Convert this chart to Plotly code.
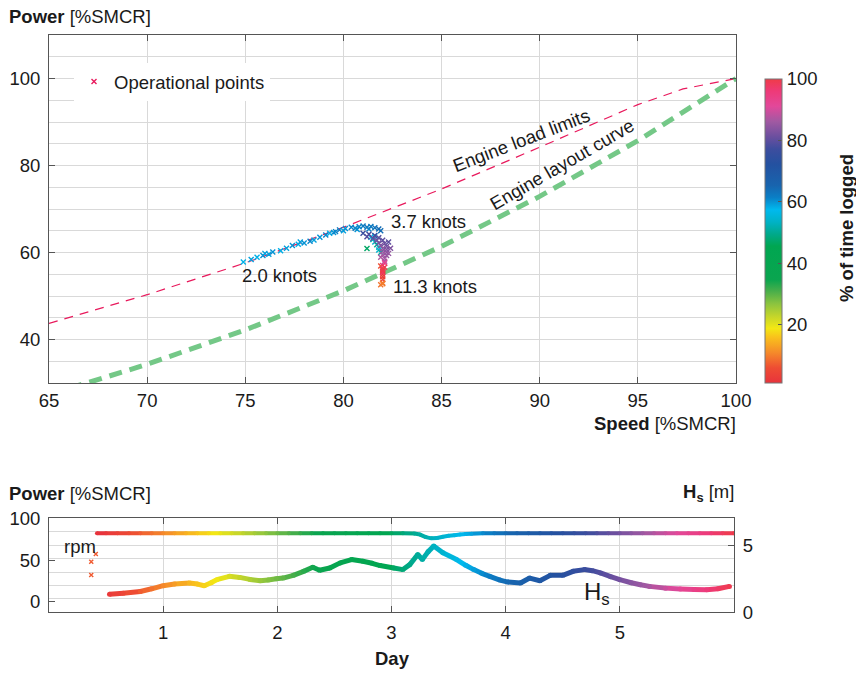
import plotly.graph_objects as go
from plotly.colors import sample_colorscale

# ---------------- data ----------------
load_speed = [65, 70, 75, 80, 85, 90, 95, 97.3, 100]
load_power = [43.7, 50.3, 57.6, 65.8, 74.6, 84.2, 94.0, 97.6, 100]

layout_speed = [65, 67, 70, 75, 80, 85, 90, 95, 100]
layout_power = [27.5, 30.1, 34.3, 42.2, 51.2, 61.4, 72.9, 85.7, 100]

op_speed = [82.0, 82.0, 82.0, 82.0, 82.0, 81.9, 82.0, 81.9, 82.0,
            81.2, 81.5, 81.6, 81.7, 81.8, 81.8, 81.9, 81.4, 81.6,
            74.9, 75.3, 75.6, 75.9, 76.0, 76.2, 76.4, 76.8, 77.1, 77.4, 77.7, 77.8, 78.0,
            78.3, 78.5, 78.8, 79.1, 79.3, 79.5, 79.6, 79.8, 80.0, 80.1, 80.4, 80.6, 80.7,
            80.8, 81.0, 81.2, 81.3, 81.4, 81.6, 81.8, 81.9,
            81.0, 81.3, 81.6, 81.8, 82.0, 82.1, 82.2, 82.2, 82.2, 82.2, 82.1, 82.1,
            81.2, 81.5, 81.7, 81.8, 81.9, 82.0, 82.0, 82.0, 81.9, 82.3, 82.4, 82.3,
            82.1, 82.0, 82.0, 82.1, 82.0]
op_power = [55.6, 56.2, 54.4, 55.0, 53.8, 56.9, 53.0, 52.6, 52.8,
            60.9, 63.0, 62.4, 61.8, 61.2, 60.6, 60.0, 63.5, 63.8,
            57.8, 58.4, 58.9, 59.3, 59.8, 59.6, 60.1, 60.4, 61.0, 61.6, 61.9, 62.4, 62.2,
            62.6, 62.9, 63.5, 64.0, 64.4, 64.6, 64.8, 65.2, 65.0, 65.5, 65.8, 65.6, 65.3,
            65.9, 66.1, 65.8, 65.4, 66.0, 65.7, 65.4, 65.0,
            64.4, 64.2, 63.9, 63.4, 62.8, 62.1, 61.4, 60.7, 60.0, 59.3, 58.6, 58.0,
            63.6, 63.3, 62.8, 62.2, 61.6, 60.9, 60.2, 59.5, 58.9, 62.4, 61.0, 59.8,
            57.6, 57.0, 55.4, 56.6, 56.0]
op_time = [1, 2, 2, 3, 4, 6, 8, 9, 10,
           47, 52, 54, 50, 53, 55, 51, 56, 57,
           58, 59, 58, 60, 59, 59, 60, 58, 59, 60, 58, 59, 60,
           61, 59, 60, 61, 58, 60, 61, 62, 59, 60, 61, 62, 60,
           61, 62, 63, 61, 62, 63, 64, 64,
           76, 78, 77, 79, 80, 81, 82, 83, 84, 85, 86, 88,
           79, 80, 81, 82, 83, 84, 85, 86, 87, 80, 83, 85,
           92, 96, 98, 99, 100]

rpm_day = [0.42, 0.5, 0.6, 0.7, 0.8, 0.9, 1.0, 1.1, 1.2, 1.3, 1.4, 1.5, 1.6, 1.7, 1.8, 1.9,
           2.0, 2.1, 2.2, 2.3, 2.4, 2.5, 2.6, 2.7, 2.8, 2.9, 3.0, 3.1, 3.2, 3.25, 3.3, 3.35,
           3.4, 3.45, 3.5, 3.55, 3.6, 3.65, 3.7, 3.8, 3.9, 4.0, 4.1, 4.2, 4.3, 4.4, 4.5, 4.6,
           4.7, 4.8, 4.9, 5.0, 5.1, 5.2, 5.3, 5.4, 5.5, 5.6, 5.7, 5.8, 5.9, 6.0]
rpm_val = [82, 82, 82, 82, 82, 82, 82, 82, 82, 82, 82, 82, 82, 82, 82, 82,
           82, 82, 82, 82, 82, 82, 82, 82, 82, 82, 82, 82, 81.8, 80.5, 77.5, 76.0,
           76.5, 78.0, 79.0, 79.8, 80.5, 81.2, 81.6, 82, 82, 82, 82, 82, 82, 82, 82, 82,
           82, 82, 82, 82, 82, 82, 82, 82, 82, 82, 82, 82, 82, 82]

rpm_pts_day = [0.41, 0.37, 0.37]
rpm_pts_val = [57.3, 48.1, 32.2]

hs_day = [0.53, 0.65, 0.80, 0.90, 1.0, 1.1, 1.23, 1.30, 1.36, 1.42, 1.47, 1.58, 1.67, 1.76,
          1.85, 1.92, 1.99, 2.05, 2.14, 2.23, 2.31, 2.37, 2.46, 2.55, 2.65, 2.75, 2.83, 2.9,
          3.02, 3.10, 3.16, 3.23, 3.27, 3.32, 3.37, 3.45, 3.57, 3.65, 3.72, 3.79, 3.86, 3.95,
          4.02, 4.13, 4.21, 4.30, 4.39, 4.50, 4.59, 4.69, 4.76, 4.83, 4.92, 5.0, 5.1, 5.18,
          5.26, 5.4, 5.53, 5.65, 5.76, 5.86, 5.96]
hs_val = [1.35, 1.42, 1.55, 1.75, 1.98, 2.1, 2.18, 2.1, 1.98, 2.2, 2.43, 2.68, 2.6, 2.45,
          2.35, 2.4, 2.5, 2.55, 2.75, 3.05, 3.35, 3.13, 3.3, 3.68, 3.93, 3.8, 3.65, 3.48,
          3.3, 3.18, 3.55, 4.3, 3.93, 4.5, 4.93, 4.43, 3.93, 3.5, 3.18, 2.9, 2.68, 2.4,
          2.25, 2.18, 2.55, 2.35, 2.75, 2.75, 3.05, 3.18, 3.1, 2.93, 2.65, 2.43, 2.2, 2.05,
          1.93, 1.8, 1.73, 1.7, 1.68, 1.75, 1.93]

cbar_ticks = [20, 40, 60, 80, 100]
day_ticks = [1, 2, 3, 4, 5]

# ---------------- style ----------------
W, H = 856, 674
FONT = "Liberation Sans, Arial, Helvetica, sans-serif"
FS = 18.5
TXT = "#1a1a1a"
GRID = "#d9d9d9"
AX = "#555555"

def fx(p):
    return p / W

def fy(p):
    return 1 - p / H

cscale = [
    [0.00, "#e8333c"], [0.05, "#ee4d33"], [0.10, "#f58a2a"], [0.15, "#f9c11c"],
    [0.18, "#f3e814"], [0.22, "#c3d52b"], [0.26, "#8cc43f"], [0.30, "#4caf4a"],
    [0.34, "#0aa54f"], [0.45, "#00a651"], [0.49, "#00a98b"], [0.53, "#00b2c6"],
    [0.57, "#00b9ee"], [0.61, "#0a7fc6"], [0.65, "#1864ae"], [0.72, "#2451a0"],
    [0.77, "#3d4d9e"], [0.81, "#6b4f9f"], [0.86, "#a159a2"], [0.91, "#e2489a"],
    [0.96, "#ee3a78"], [1.00, "#ef3b48"],
]
CMIN, CMAX = 1, 100

def day_color(d):
    t = (d - 0.4) / 5.6 * 100
    frac = min(max((t - CMIN) / (CMAX - CMIN), 0), 1)
    return sample_colorscale(cscale, [frac])[0]

fig = go.Figure()

# ---------- top plot ----------
fig.add_trace(go.Scatter(x=load_speed, y=load_power, mode="lines",
                         line=dict(color="#e8195c", width=1.2, dash="9px,7px"),
                         showlegend=False, hoverinfo="skip"))
fig.add_trace(go.Scatter(x=layout_speed, y=layout_power, mode="lines",
                         line=dict(color="#74c887", width=5, dash="13px,8px"),
                         showlegend=False, hoverinfo="skip"))
fig.add_trace(go.Scatter(
    x=op_speed, y=op_power, mode="markers", showlegend=False, hoverinfo="skip",
    marker=dict(symbol="x-thin", size=5, color=op_time, colorscale=cscale,
                cmin=CMIN, cmax=CMAX,
                line=dict(width=1.4, color=op_time, colorscale=cscale, cmin=CMIN, cmax=CMAX),
                colorbar=dict(x=fx(765), xanchor="left", xpad=0, ypad=0,
                              y=fy(383), yanchor="bottom", len=(383 - 79) / H,
                              lenmode="fraction", thickness=17, thicknessmode="pixels",
                              outlinecolor="#777", outlinewidth=1,
                              tickvals=cbar_ticks, ticks="inside", ticklen=4,
                              tickcolor="#555",
                              tickfont=dict(family=FONT, size=FS, color=TXT)))))
fig.add_trace(go.Scatter(x=[None], y=[None], mode="markers", name="Operational points",
                         marker=dict(symbol="x-thin", size=5, color="#e8195c",
                                     line=dict(width=1.4, color="#e8195c"))))

# ---------- bottom plot ----------
for i in range(len(rpm_day) - 1):
    c = day_color((rpm_day[i] + rpm_day[i + 1]) / 2)
    fig.add_trace(go.Scatter(x=rpm_day[i:i + 2], y=rpm_val[i:i + 2], mode="lines",
                             line=dict(color=c, width=4), xaxis="x2", yaxis="y2",
                             showlegend=False, hoverinfo="skip"))
fig.add_trace(go.Scatter(x=rpm_day, y=rpm_val, mode="markers", xaxis="x2", yaxis="y2",
                         marker=dict(size=4, color=[day_color(d) for d in rpm_day]),
                         showlegend=False, hoverinfo="skip"))
fig.add_trace(go.Scatter(x=rpm_pts_day, y=rpm_pts_val, mode="markers", xaxis="x2", yaxis="y2",
                         marker=dict(symbol="x-thin", size=4, color="#f05a30",
                                     line=dict(width=1.4, color="#f05a30")),
                         showlegend=False, hoverinfo="skip"))
for i in range(len(hs_day) - 1):
    c = day_color((hs_day[i] + hs_day[i + 1]) / 2)
    fig.add_trace(go.Scatter(x=hs_day[i:i + 2], y=hs_val[i:i + 2], mode="lines",
                             line=dict(color=c, width=5), xaxis="x2", yaxis="y3",
                             showlegend=False, hoverinfo="skip"))
fig.add_trace(go.Scatter(x=hs_day, y=hs_val, mode="markers", xaxis="x2", yaxis="y3",
                         marker=dict(size=5, color=[day_color(d) for d in hs_day]),
                         showlegend=False, hoverinfo="skip"))

tickfont = dict(family=FONT, size=FS, color=TXT)
common = dict(showline=True, linecolor=AX, linewidth=1, ticks="inside", ticklen=6,
              tickcolor=AX, tickfont=tickfont, gridcolor=GRID, gridwidth=1,
              zeroline=False, fixedrange=True)

fig.update_layout(
    width=W, height=H, margin=dict(l=0, r=0, t=0, b=0, autoexpand=False),
    paper_bgcolor="white", plot_bgcolor="white",
    font=dict(family=FONT, size=FS, color=TXT),
    showlegend=True,
    legend=dict(x=fx(74), y=fy(63), xanchor="left", yanchor="top",
                bgcolor="white", borderwidth=0, font=dict(family=FONT, size=FS, color=TXT)),
    xaxis=dict(domain=[fx(49), fx(736)], range=[65, 100], dtick=5, anchor="y",
               mirror="ticks", showgrid=True, ticklabelstandoff=1, **common),
    yaxis=dict(domain=[fy(383), fy(35)], range=[30, 110], tickvals=[40, 60, 80, 100],
               anchor="x", mirror="ticks", showgrid=True,
               minor=dict(dtick=5, tick0=0, showgrid=True, gridcolor=GRID, ticks=""),
               ticklabelstandoff=4, **common),
    xaxis2=dict(domain=[fx(49), fx(734)], range=[0, 6], tickvals=day_ticks, anchor="y2",
                mirror="ticks", showgrid=True, ticklabelstandoff=3, **common),
    yaxis2=dict(domain=[fy(612.3), fy(518.3)], range=[-12.5, 100], tickvals=[0, 50, 100],
                anchor="x2", showgrid=False, ticklabelstandoff=4, **common),
    yaxis3=dict(overlaying="y2", side="right", anchor="x2", range=[0, 7], tickvals=[0, 5],
                showgrid=True,
                minor=dict(tickvals=[1, 2, 3, 4, 6], showgrid=True, gridcolor=GRID, ticks=""),
                ticklabelstandoff=4, **common),
)

ann = []

def A(x, y, text, size=FS, xanchor="center", yanchor="middle", angle=0):
    ann.append(dict(x=fx(x), y=fy(y), xref="paper", yref="paper", text=text,
                    showarrow=False, xanchor=xanchor, yanchor=yanchor, textangle=angle,
                    font=dict(family=FONT, size=size, color=TXT)))

A(7, 16, "<b>Power</b> [%SMCR]", xanchor="left")
A(738, 423, "<b>Speed</b> [%SMCR]", xanchor="right")
A(846, 228, "<b>% of time logged</b>", angle=-90)
A(279, 276, "2.0 knots")
A(429, 222, "3.7 knots")
A(435, 286, "11.3 knots")
A(521, 141, "Engine load limits", angle=-21)
A(562, 165, "Engine layout curve", angle=-30)
A(7, 493, "<b>Power</b> [%SMCR]", xanchor="left")
A(736, 493, "<b>H<sub>s</sub></b> [m]", xanchor="right")
A(392, 658, "<b>Day</b>")
A(80, 546, "rpm")
A(597, 593, "H<sub>s</sub>", size=24)
fig.update_layout(annotations=ann)

fig.write_html("out.html", config={"displayModeBar": False},
               post_script="document.body.style.margin='0';")
